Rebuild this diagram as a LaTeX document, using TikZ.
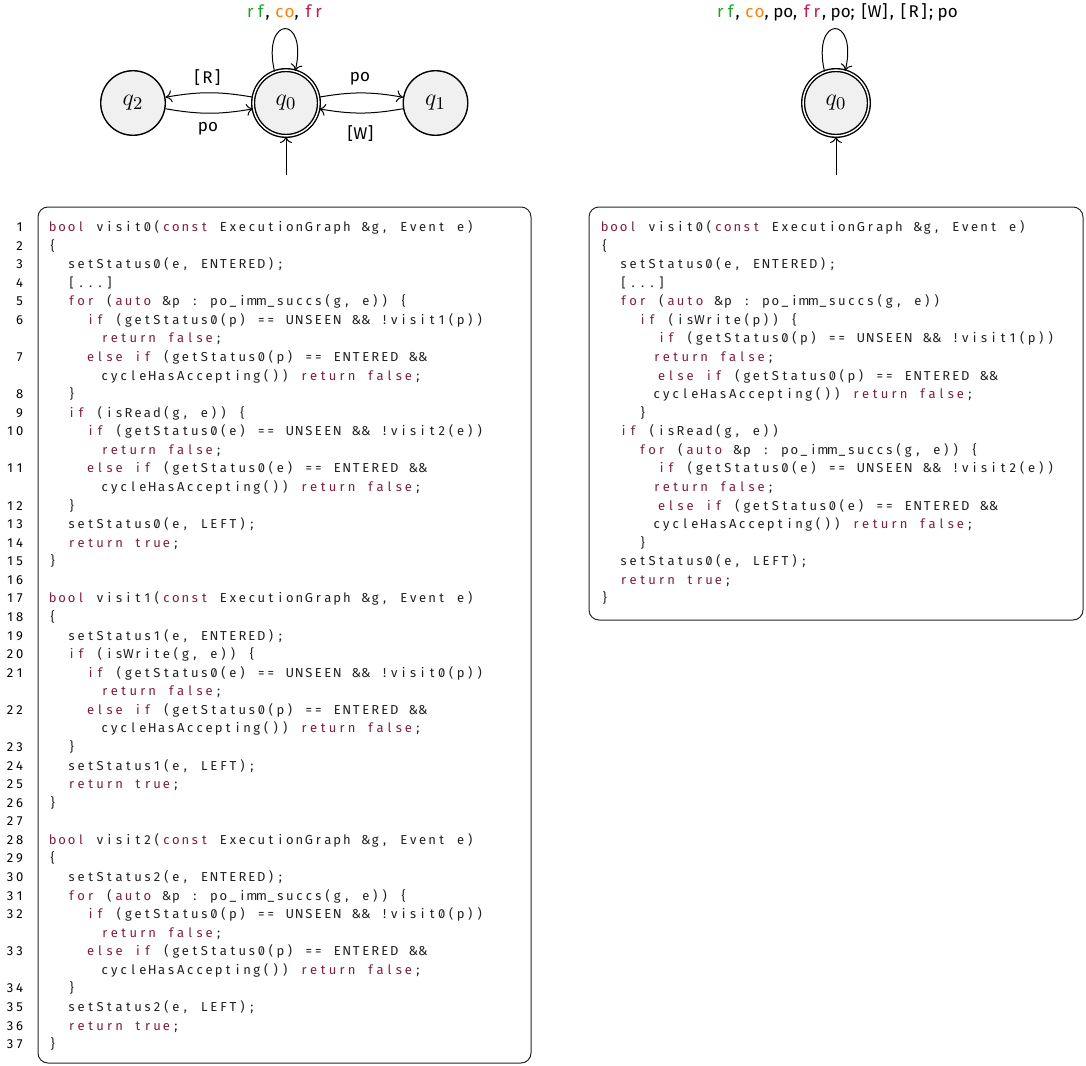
\documentclass[tikz,border=0pt]{standalone}
\usepackage[no-math]{fontspec}
\setmainfont{Fira Sans}
\newfontfamily\codefont{Fira Sans}
\usetikzlibrary{arrows.meta}

\definecolor{kwred}{RGB}{125,30,60}
\definecolor{rfgreen}{RGB}{34,160,44}
\definecolor{coorange}{RGB}{255,127,14}
\definecolor{frred}{RGB}{200,20,75}
\definecolor{statefill}{gray}{0.94}
\definecolor{codeink}{gray}{0.12}

% a zero with a short slash through it
\newcommand\slzero{\ooalign{\hfil0\hfil\cr\hfil\raisebox{0.08em}{\scalebox{0.62}{/}}\hfil\cr}}

% every character of the argument in a cell of fixed width
\ExplSyntaxOn
\NewDocumentCommand \cellsin { m m }
  { \str_map_inline:nn {#2} { \makebox[#1][c]{##1} } }
\NewDocumentCommand \codecells { m m }
  {
    \str_map_inline:nn {#2}
      { \str_if_eq:nnTF {##1} {0} { \makebox[#1][c]{\slzero} } { \makebox[#1][c]{##1} } }
  }
\ExplSyntaxOff

\newlength\codecw \setlength\codecw{4.745pt}
\newlength\labcw  \setlength\labcw{5.1pt}
\newcommand\ct[1]{\codecells{\codecw}{#1}}
\newcommand\kw[1]{{\color{kwred}\codecells{\codecw}{#1}}}
\newcommand\obr{\makebox[\codecw][c]{\{}}
\newcommand\cbr{\makebox[\codecw][c]{\}}}
\newcommand\ind[1]{\hspace*{#1\codecw}}
\newcommand\lnum[1]{\leavevmode\llap{{\color{black}\cellsin{\codecw}{#1}}\hspace*{11.75pt}}}
\newcommand\monolab[1]{\cellsin{\labcw}{#1}}

\tikzset{
  state/.style={circle, draw, fill=statefill, line width=0.7pt,
    minimum size=32.3pt, inner sep=0pt,
    font=\fontsize{13pt}{14pt}\selectfont},
  acc/.style={state, double, double distance=0.7pt, minimum size=32.9pt},
  edge/.style={-{To[length=3.2pt,width=6pt]}, line width=0.5pt},
  lbl/.style={font=\fontsize{8.5pt}{10pt}\selectfont, inner sep=0pt, anchor=base},
  codebox/.style={draw=black!85, line width=0.5pt, rounded corners=5pt},
  codetext/.style={inner sep=0pt, anchor=base west,
    font=\codefont\fontsize{6.5pt}{9.285pt}\selectfont, text=codeink}
}

\begin{document}
\begin{tikzpicture}[x=0.5pt, y=-0.5pt]
\useasboundingbox (0,0) rectangle (1086,1065);

% ---------- automaton with three states ----------
\node[acc]   (q0) at (286,103) {$q_0$};
\node[state] (q1) at (435.5,103) {$q_1$};
\node[state] (q2) at (133,103) {$q_2$};
\coordinate (s0) at (286,175);

\draw[edge] (q0) to[bend left=10]  (q1);
\draw[edge] (q1) to[bend left=10]  (q0);
\draw[edge] (q0) to[bend right=10] (q2);
\draw[edge] (q2) to[bend right=10] (q0);
\draw[edge] (q0.110) .. controls +(103:29pt) and +(77:29pt) .. (q0.74);
\draw[edge] (s0) -- (q0);

\node[lbl] (lR)  at (207.5,83.5) {\monolab{[R]}};
\node[lbl] (lpa) at (208,131.7)  {po};
\node[lbl] (lpb) at (360,81.7)   {po};
\node[lbl] (lW)  at (360.5,140)  {\monolab{[W]}};
\node[lbl] (lloopa) at (284.5,17.5)
  {{\color{rfgreen}\monolab{rf}}, {\color{coorange}\monolab{co}}, {\color{frred}\monolab{fr}}};

% ---------- automaton with one state ----------
\node[acc] (p0) at (836,103) {$q_0$};
\coordinate (s1) at (836,175);
\draw[edge] (p0.110) .. controls +(103:29pt) and +(77:29pt) .. (p0.74);
\draw[edge] (s1) -- (p0);
\node[lbl] (lloopb) at (836.5,17.5)
  {{\color{rfgreen}\monolab{rf}}, {\color{coorange}\monolab{co}}, po, {\color{frred}\monolab{fr}}, po; \monolab{[W]}, \monolab{[R]}; po};

% ---------- three visit functions, numbered ----------
\draw[codebox] (38,207) rectangle (531,1063);
\node[codetext] (codeL) at (47.5,231.5) {\parbox[t]{260pt}{\raggedright
\lnum{1}\kw{bool}\ct{ visit0(}\kw{const}\ct{ ExecutionGraph &g, Event e)}\\
\lnum{2}\obr\\
\lnum{3}\ind{2}\ct{setStatus0(e, ENTERED);}\\
\lnum{4}\ind{2}\ct{[...]}\\
\lnum{5}\ind{2}\kw{for}\ct{ (}\kw{auto}\ct{ &p : po_imm_succs(g, e)) }\obr\\
\lnum{6}\ind{4}\kw{if}\ct{ (getStatus0(p) == UNSEEN && !visit1(p))}\\
\ind{5.5}\kw{return false}\ct{;}\\
\lnum{7}\ind{4}\kw{else if}\ct{ (getStatus0(p) == ENTERED &&}\\
\ind{5.5}\ct{cycleHasAccepting()) }\kw{return false}\ct{;}\\
\lnum{8}\ind{2}\cbr\\
\lnum{9}\ind{2}\kw{if}\ct{ (isRead(g, e)) }\obr\\
\lnum{10}\ind{4}\kw{if}\ct{ (getStatus0(e) == UNSEEN && !visit2(e))}\\
\ind{5.5}\kw{return false}\ct{;}\\
\lnum{11}\ind{4}\kw{else if}\ct{ (getStatus0(e) == ENTERED &&}\\
\ind{5.5}\ct{cycleHasAccepting()) }\kw{return false}\ct{;}\\
\lnum{12}\ind{2}\cbr\\
\lnum{13}\ind{2}\ct{setStatus0(e, LEFT);}\\
\lnum{14}\ind{2}\kw{return true}\ct{;}\\
\lnum{15}\cbr\\
\lnum{16}\\
\lnum{17}\kw{bool}\ct{ visit1(}\kw{const}\ct{ ExecutionGraph &g, Event e)}\\
\lnum{18}\obr\\
\lnum{19}\ind{2}\ct{setStatus1(e, ENTERED);}\\
\lnum{20}\ind{2}\kw{if}\ct{ (isWrite(g, e)) }\obr\\
\lnum{21}\ind{4}\kw{if}\ct{ (getStatus0(e) == UNSEEN && !visit0(p))}\\
\ind{5.5}\kw{return false}\ct{;}\\
\lnum{22}\ind{4}\kw{else if}\ct{ (getStatus0(p) == ENTERED &&}\\
\ind{5.5}\ct{cycleHasAccepting()) }\kw{return false}\ct{;}\\
\lnum{23}\ind{2}\cbr\\
\lnum{24}\ind{2}\ct{setStatus1(e, LEFT);}\\
\lnum{25}\ind{2}\kw{return true}\ct{;}\\
\lnum{26}\cbr\\
\lnum{27}\\
\lnum{28}\kw{bool}\ct{ visit2(}\kw{const}\ct{ ExecutionGraph &g, Event e)}\\
\lnum{29}\obr\\
\lnum{30}\ind{2}\ct{setStatus2(e, ENTERED);}\\
\lnum{31}\ind{2}\kw{for}\ct{ (}\kw{auto}\ct{ &p : po_imm_succs(g, e)) }\obr\\
\lnum{32}\ind{4}\kw{if}\ct{ (getStatus0(p) == UNSEEN && !visit0(p))}\\
\ind{5.5}\kw{return false}\ct{;}\\
\lnum{33}\ind{4}\kw{else if}\ct{ (getStatus0(p) == ENTERED &&}\\
\ind{5.5}\ct{cycleHasAccepting()) }\kw{return false}\ct{;}\\
\lnum{34}\ind{2}\cbr\\
\lnum{35}\ind{2}\ct{setStatus2(e, LEFT);}\\
\lnum{36}\ind{2}\kw{return true}\ct{;}\\
\lnum{37}\cbr}};

% ---------- merged visit function ----------
\draw[codebox] (589,207) rectangle (1083,620);
\node[codetext] (codeR) at (599.5,231.5) {\parbox[t]{260pt}{\raggedright\leavevmode
\kw{bool}\ct{ visit0(}\kw{const}\ct{ ExecutionGraph &g, Event e)}\\
\obr\\
\ind{2}\ct{setStatus0(e, ENTERED);}\\
\ind{2}\ct{[...]}\\
\ind{2}\kw{for}\ct{ (}\kw{auto}\ct{ &p : po_imm_succs(g, e))}\\
\ind{4}\kw{if}\ct{ (isWrite(p)) }\obr\\
\ind{6}\kw{if}\ct{ (getStatus0(p) == UNSEEN && !visit1(p))}\\
\ind{5.5}\kw{return false}\ct{;}\\
\ind{6}\kw{else if}\ct{ (getStatus0(p) == ENTERED &&}\\
\ind{5.5}\ct{cycleHasAccepting()) }\kw{return false}\ct{;}\\
\ind{4}\cbr\\
\ind{2}\kw{if}\ct{ (isRead(g, e))}\\
\ind{4}\kw{for}\ct{ (}\kw{auto}\ct{ &p : po_imm_succs(g, e)) }\obr\\
\ind{6}\kw{if}\ct{ (getStatus0(e) == UNSEEN && !visit2(e))}\\
\ind{5.5}\kw{return false}\ct{;}\\
\ind{6}\kw{else if}\ct{ (getStatus0(e) == ENTERED &&}\\
\ind{5.5}\ct{cycleHasAccepting()) }\kw{return false}\ct{;}\\
\ind{4}\cbr\\
\ind{2}\ct{setStatus0(e, LEFT);}\\
\ind{2}\kw{return true}\ct{;}\\
\cbr}};
\end{tikzpicture}
\end{document}
